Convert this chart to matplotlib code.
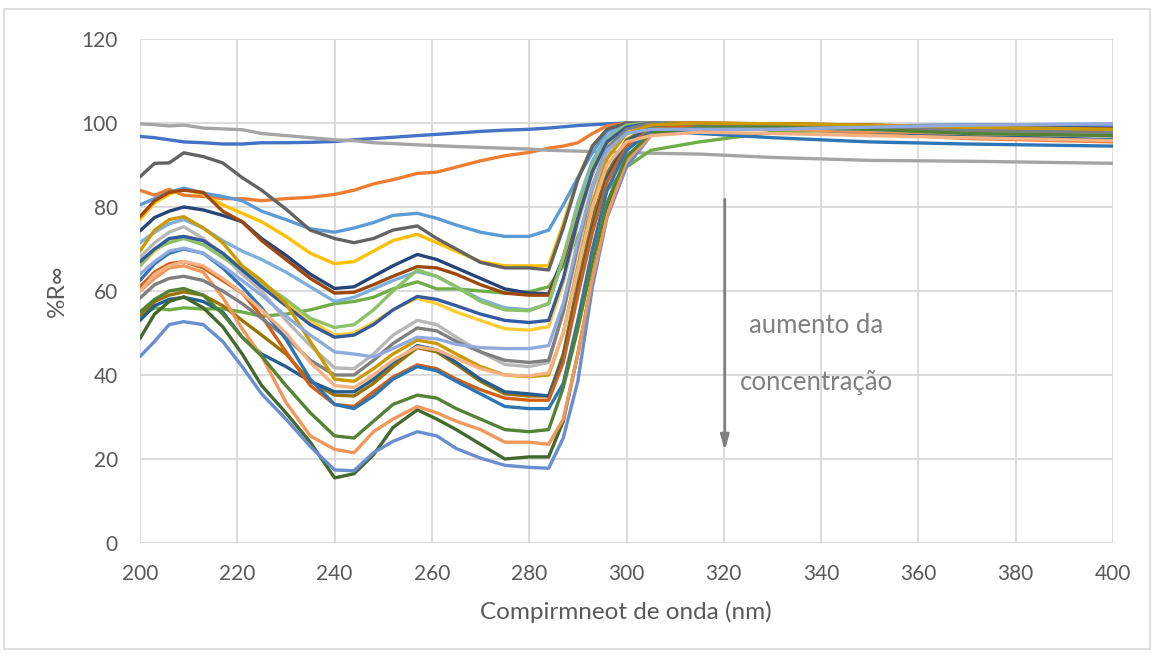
import matplotlib
matplotlib.use("Agg")
import matplotlib.pyplot as plt
from matplotlib.patches import Rectangle

plt.rcParams["font.family"] = ["Lato", "DejaVu Sans"]

# Wavelengths (nm) at which each spectrum is sampled
wavelength = [200, 203, 206, 209, 213, 217, 221, 225, 230, 235, 240, 244, 248, 252, 257, 261,
              265, 270, 275, 280, 284, 287, 290, 293, 296, 300, 305, 315, 330, 350, 370, 400]

# Reflectance spectra (%R∞), one list per sample, in series order
s01 = [96.8, 96.5, 96.0, 95.5, 95.3, 95.0, 95.0, 95.3, 95.3, 95.4, 95.6, 96.0, 96.3, 96.6, 97.0, 97.3,
       97.6, 98.0, 98.3, 98.5, 98.8, 99.1, 99.4, 99.6, 99.8, 100.0, 99.8, 99.4, 99.2, 99.3, 99.5, 99.6]
s02 = [84.0, 82.8, 84.2, 82.8, 82.5, 82.0, 82.0, 81.5, 82.0, 82.3, 83.0, 84.0, 85.5, 86.5, 88.0, 88.3,
       89.5, 91.0, 92.2, 93.0, 94.0, 94.5, 95.3, 97.5, 99.3, 100.0, 99.8, 99.5, 98.8, 97.5, 96.3, 95.5]
s03 = [99.8, 99.6, 99.3, 99.5, 98.8, 98.6, 98.4, 97.5, 97.0, 96.5, 96.0, 95.8, 95.3, 95.1, 94.8, 94.6,
       94.4, 94.2, 94.0, 93.8, 93.5, 93.4, 93.3, 93.2, 93.1, 93.0, 92.8, 92.6, 91.8, 91.1, 90.9, 90.4]
s04 = [77.0, 81.0, 83.0, 84.3, 83.0, 80.5, 78.5, 76.5, 73.0, 69.0, 66.5, 67.0, 69.5, 72.0, 73.5, 71.5,
       69.5, 67.0, 66.0, 66.0, 66.0, 76.0, 87.0, 94.5, 98.5, 100.0, 100.0, 99.8, 99.4, 99.0, 98.5, 98.2]
s05 = [80.5, 82.0, 83.5, 84.5, 83.3, 82.5, 81.5, 79.0, 77.0, 74.8, 74.0, 75.0, 76.3, 78.0, 78.5, 77.3,
       75.7, 74.0, 73.0, 73.0, 74.5, 80.5, 87.0, 93.0, 98.0, 100.0, 99.8, 99.0, 98.5, 98.0, 97.5, 97.0]
s06 = [54.0, 56.0, 55.5, 56.0, 55.7, 55.8, 55.0, 54.0, 54.5, 55.5, 57.0, 57.5, 58.5, 60.5, 62.2, 60.5,
       60.5, 60.0, 59.5, 59.8, 61.0, 66.0, 73.0, 79.0, 84.0, 89.5, 93.5, 95.5, 97.8, 98.5, 97.5, 97.0]
s07 = [74.3, 77.5, 79.0, 80.0, 79.3, 78.0, 76.5, 72.5, 68.5, 64.0, 60.6, 61.0, 63.5, 66.0, 68.7, 67.5,
       65.5, 63.0, 60.5, 59.5, 59.3, 68.0, 79.0, 89.0, 95.5, 99.0, 100.0, 99.8, 99.5, 99.3, 99.0, 98.8]
s08 = [77.7, 81.5, 83.5, 84.0, 83.5, 79.0, 76.5, 72.0, 67.5, 63.0, 59.5, 59.7, 61.5, 63.5, 65.8, 65.5,
       64.0, 61.5, 59.5, 59.0, 59.0, 67.0, 78.0, 88.0, 95.0, 99.0, 100.0, 100.0, 99.8, 99.5, 99.0, 98.5]
s09 = [87.2, 90.4, 90.5, 92.9, 92.0, 90.5, 87.0, 84.0, 79.5, 74.5, 72.5, 71.5, 72.5, 74.5, 75.5, 72.5,
       70.0, 66.8, 65.5, 65.5, 65.0, 75.0, 86.5, 94.5, 98.5, 100.0, 100.0, 99.5, 99.0, 98.5, 98.5, 98.0]
s10 = [54.0, 57.5, 59.0, 59.8, 59.0, 56.5, 53.0, 49.5, 45.0, 38.5, 35.2, 35.0, 38.0, 42.0, 46.5, 45.5,
       42.5, 38.5, 35.5, 35.0, 35.0, 45.0, 62.0, 77.0, 88.0, 96.0, 99.3, 99.8, 99.8, 99.5, 98.5, 98.0]
s11 = [53.0, 56.5, 58.0, 58.5, 57.5, 55.0, 49.0, 45.0, 42.0, 38.5, 36.0, 36.0, 39.0, 43.0, 47.0, 46.0,
       43.0, 39.0, 36.0, 35.5, 35.0, 44.0, 60.0, 75.0, 87.0, 95.5, 99.0, 99.5, 99.0, 98.0, 97.0, 96.0]
s12 = [48.7, 54.5, 57.5, 58.6, 56.0, 51.5, 45.0, 37.5, 31.0, 24.0, 15.5, 16.5, 21.0, 27.5, 31.7, 29.5,
       27.0, 23.5, 20.0, 20.5, 20.5, 29.0, 45.0, 63.0, 79.0, 91.5, 97.5, 99.5, 99.5, 99.0, 98.5, 98.0]
s13 = [44.4, 48.0, 52.0, 52.7, 52.0, 48.0, 42.0, 35.5, 29.5, 23.0, 17.4, 17.2, 21.5, 24.2, 26.5, 25.5,
       22.5, 20.2, 18.5, 18.0, 17.8, 25.0, 38.5, 61.0, 77.5, 89.6, 97.0, 99.0, 99.3, 99.3, 99.5, 99.7]
s14 = [60.0, 63.0, 65.5, 66.0, 64.5, 58.5, 51.0, 44.5, 33.5, 25.5, 22.3, 21.5, 26.5, 29.5, 32.5, 31.0,
       29.0, 27.0, 24.0, 24.0, 23.5, 29.5, 45.0, 63.0, 78.0, 91.0, 97.0, 98.5, 98.5, 98.0, 97.5, 97.0]
s15 = [68.0, 71.5, 74.0, 75.3, 72.5, 68.5, 64.0, 60.0, 53.0, 47.0, 41.7, 41.5, 45.0, 49.5, 53.0, 52.0,
       49.0, 45.5, 42.5, 42.0, 43.0, 55.0, 70.0, 84.0, 93.0, 98.5, 100.0, 99.7, 99.3, 98.5, 97.5, 97.0]
s16 = [66.0, 69.5, 72.0, 73.0, 72.0, 69.0, 65.5, 62.0, 57.5, 53.0, 49.5, 50.0, 52.5, 55.5, 58.3, 57.0,
       55.0, 53.0, 51.0, 50.7, 51.5, 62.0, 76.0, 88.0, 95.0, 99.0, 100.0, 99.8, 99.5, 99.0, 98.5, 98.0]
s17 = [71.5, 74.0, 76.0, 77.0, 75.0, 72.0, 69.5, 67.5, 64.5, 61.0, 57.5, 58.5, 60.5, 62.5, 64.6, 63.5,
       61.0, 58.0, 56.0, 55.5, 57.0, 68.0, 81.0, 91.0, 97.0, 99.5, 100.0, 99.5, 99.0, 98.5, 98.0, 97.5]
s18 = [66.0, 70.0, 71.5, 72.5, 71.0, 68.0, 65.0, 62.0, 58.0, 53.5, 51.3, 52.0, 55.5, 60.0, 65.0, 63.5,
       61.0, 57.5, 55.5, 55.3, 57.0, 68.0, 80.0, 90.0, 96.0, 99.5, 100.0, 99.7, 99.3, 99.0, 98.5, 98.0]
s19 = [67.0, 70.0, 72.5, 73.0, 72.0, 69.0, 65.0, 61.0, 56.5, 52.0, 49.0, 49.5, 52.0, 55.5, 58.7, 58.0,
       56.5, 54.5, 53.0, 52.5, 53.0, 63.0, 77.0, 88.5, 95.5, 99.0, 100.0, 99.7, 99.3, 98.8, 98.5, 98.0]
s20 = [61.0, 64.5, 66.5, 67.0, 65.5, 62.5, 59.5, 54.0, 45.5, 37.5, 33.0, 32.5, 36.0, 39.5, 42.4, 41.5,
       39.0, 36.5, 34.5, 34.0, 34.0, 43.0, 59.0, 74.0, 86.0, 94.5, 98.5, 99.5, 99.3, 99.0, 98.5, 98.0]
s21 = [58.3, 61.5, 63.0, 63.5, 62.5, 60.0, 57.0, 53.5, 49.0, 43.5, 40.0, 40.0, 43.5, 47.5, 51.2, 50.5,
       48.0, 45.5, 43.5, 43.0, 43.5, 55.0, 71.0, 85.0, 94.0, 98.5, 100.0, 99.7, 99.3, 98.8, 98.3, 97.8]
s22 = [69.5, 74.5, 77.0, 77.7, 75.0, 71.5, 66.0, 62.5, 57.0, 48.0, 39.0, 38.5, 41.5, 45.0, 48.3, 47.5,
       45.0, 42.0, 40.0, 39.6, 40.0, 50.0, 66.0, 81.0, 91.5, 97.5, 99.5, 100.0, 99.8, 99.5, 99.0, 98.5]
s23 = [62.5, 66.5, 69.0, 70.0, 69.0, 65.5, 61.0, 56.0, 48.5, 39.0, 33.0, 32.0, 35.0, 39.0, 42.0, 41.0,
       38.5, 35.5, 32.5, 32.0, 32.0, 38.0, 53.0, 70.0, 84.0, 93.5, 98.0, 97.5, 96.5, 95.5, 95.0, 94.5]
s24 = [55.0, 58.0, 60.0, 60.6, 59.0, 54.5, 49.0, 44.5, 37.5, 31.0, 25.5, 25.0, 29.0, 33.0, 35.2, 34.5,
       32.0, 29.5, 27.0, 26.5, 27.0, 37.0, 51.0, 67.0, 81.0, 92.0, 97.5, 99.0, 99.0, 98.5, 97.5, 97.0]
s25 = [64.0, 67.0, 69.5, 70.2, 69.0, 66.0, 62.5, 59.0, 54.0, 49.5, 45.5, 45.0, 44.3, 46.3, 49.0, 48.6,
       47.3, 46.5, 46.3, 46.3, 47.0, 57.0, 72.0, 85.0, 93.5, 97.5, 98.5, 98.5, 98.5, 99.0, 99.5, 99.8]
s26 = [60.0, 64.0, 66.0, 67.0, 66.0, 63.0, 59.5, 55.5, 50.0, 43.0, 37.5, 37.0, 40.0, 43.5, 46.7, 46.0,
       44.0, 41.5, 40.0, 39.8, 40.5, 50.0, 65.0, 80.0, 90.0, 95.5, 97.0, 97.8, 97.5, 97.0, 96.5, 95.8]

spectra = [s01, s02, s03, s04, s05, s06, s07, s08, s09, s10, s11, s12, s13,
           s14, s15, s16, s17, s18, s19, s20, s21, s22, s23, s24, s25, s26]

colors = ["#4472C4", "#ED7D31", "#A5A5A5", "#FFC000", "#5B9BD5", "#70AD47",
          "#264478", "#9E480E", "#636363", "#997300", "#255E91", "#43682B",
          "#698ED0", "#F1975A", "#B7B7B7", "#FFCD33", "#7CAFDD", "#8CC168",
          "#335AA1", "#D26012", "#7F7F7F", "#CC9A00", "#2E75B6", "#548235",
          "#8FAADC", "#F4B183"]

x_ticks = list(range(200, 401, 20))
y_ticks = list(range(0, 121, 20))

W, H = 1158, 656
fig = plt.figure(figsize=(W / 100, H / 100), dpi=100)
ax = fig.add_axes([140 / W, 1 - 543 / H, 973 / W, 504 / H])

for ys, c in zip(spectra, colors):
    ax.plot(wavelength, ys, color=c, lw=2.4, solid_joinstyle="round", solid_capstyle="round", zorder=3)

ax.set_xlim(200, 400)
ax.set_ylim(0, 120)
ax.set_xticks(x_ticks)
ax.set_yticks(y_ticks)
ax.grid(True, color="#D9D9D9", lw=1.3, zorder=0)
ax.set_axisbelow(True)
for sp in ax.spines.values():
    sp.set_visible(False)
ax.tick_params(axis="y", length=0, labelsize=15, colors="#595959", pad=16)
ax.tick_params(axis="x", length=0, labelsize=15, colors="#595959", pad=15)

fig.text(626 / W, 1 - 612 / H, "Compirmneot de onda (nm)", fontsize=17.5, color="#595959",
         ha="center", va="center")
fig.text(57 / W, 1 - 291 / H, "%R∞", fontsize=17.5, color="#595959",
         ha="center", va="center", rotation=90)

# Arrow indicating increasing concentration
ax.annotate("", xy=(320.2, 21.3), xytext=(320.2, 82.5),
            arrowprops=dict(arrowstyle="-|>,head_length=0.9,head_width=0.25",
                            color="#7F7F7F", lw=2), zorder=5)
ax.text(339.0, 51.7, "aumento da", fontsize=18.5, color="#808080", ha="center", va="center", zorder=5)
ax.text(339.0, 38.1, "concentração", fontsize=18.5, color="#808080", ha="center", va="center", zorder=5)

# Chart-area border
fig.patches.append(Rectangle((3.5 / W, 1 - 649 / H), 1146.5 / W, 640.5 / H,
                             transform=fig.transFigure, fill=False,
                             edgecolor="#D9D9D9", lw=1.2))

fig.savefig("out.png", dpi=100)
